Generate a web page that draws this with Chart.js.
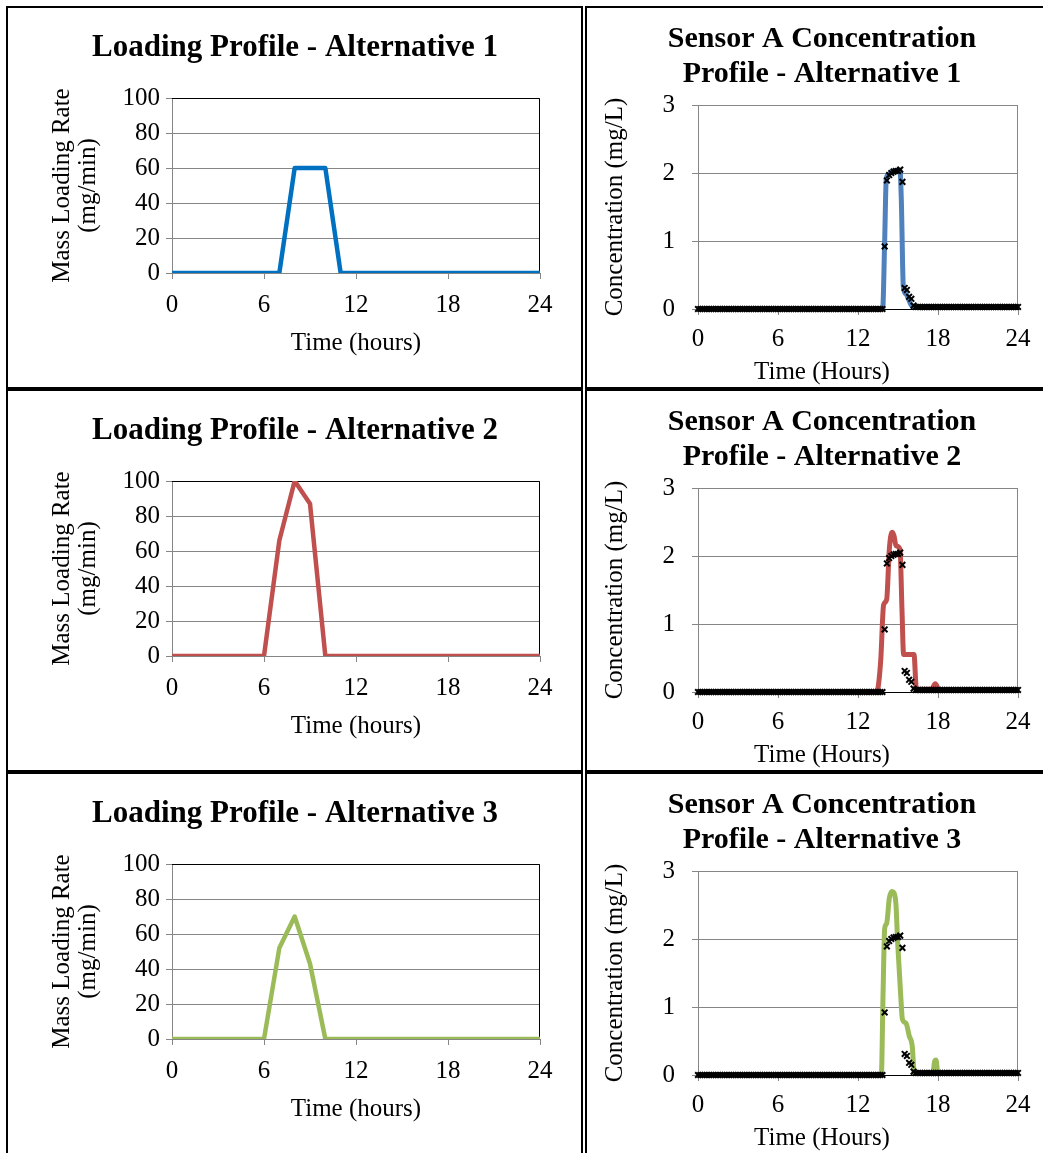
<!DOCTYPE html>
<html>
<head>
<meta charset="utf-8">
<title>Loading and Sensor A Concentration Profiles</title>
<script src="https://cdn.jsdelivr.net/npm/chart.js@4.4.1/dist/chart.umd.min.js"></script>
<style>
    html, body { margin: 0; padding: 0; background: #fff; }
    body { width: 1043px; height: 1153px; position: relative; overflow: hidden; }
    .panel { position: absolute; box-sizing: border-box; border: 2px solid #000; background: #fff; overflow: hidden; }
    .panel canvas { display: block; }
    .left { left: 6px; width: 577px; }
    .right { left: 585px; width: 462px; }
    .row1 { top: 6px; height: 383px; }
    .row2 { top: 389px; height: 383px; }
    .row3 { top: 772px; height: 383px; }
</style>
</head>
<body>
<div class="panel left row1"><canvas id="load-1" width="573" height="379"></canvas></div>
<div class="panel right row1"><canvas id="sensor-1" width="458" height="379"></canvas></div>
<div class="panel left row2"><canvas id="load-2" width="573" height="379"></canvas></div>
<div class="panel right row2"><canvas id="sensor-2" width="458" height="379"></canvas></div>
<div class="panel left row3"><canvas id="load-3" width="573" height="379"></canvas></div>
<div class="panel right row3"><canvas id="sensor-3" width="458" height="379"></canvas></div>

<script>
// ---- Data ----

// Axis ticks
const hourTicks = [0, 6, 12, 18, 24];
const loadTicks = [0, 20, 40, 60, 80, 100];
const concTicks = [0, 1, 2, 3];

// Mass loading rate (mg/min), one value per hour
const loadHours = [0, 1, 2, 3, 4, 5, 6, 7, 8, 9, 10, 11, 12, 13, 14, 15, 16, 17, 18, 19, 20, 21, 22, 23, 24];
const loadAlt1 = [0, 0, 0, 0, 0, 0, 0, 0, 60, 60, 60, 0, 0, 0, 0, 0, 0, 0, 0, 0, 0, 0, 0, 0, 0];
const loadAlt2 = [0, 0, 0, 0, 0, 0, 0, 66, 100, 87, 0, 0, 0, 0, 0, 0, 0, 0, 0, 0, 0, 0, 0, 0, 0];
const loadAlt3 = [0, 0, 0, 0, 0, 0, 0, 52, 70, 43, 0, 0, 0, 0, 0, 0, 0, 0, 0, 0, 0, 0, 0, 0, 0];

// Measured Sensor A concentration (mg/L), sampled every 10 minutes from 0:00 to 24:00
const SAMPLE_MINUTES = 10;
const measuredConc = [
    // 0:00 - 13:50
    0, 0, 0, 0, 0, 0, 0, 0, 0, 0, 0, 0,
    0, 0, 0, 0, 0, 0, 0, 0, 0, 0, 0, 0,
    0, 0, 0, 0, 0, 0, 0, 0, 0, 0, 0, 0,
    0, 0, 0, 0, 0, 0, 0, 0, 0, 0, 0, 0,
    0, 0, 0, 0, 0, 0, 0, 0, 0, 0, 0, 0,
    0, 0, 0, 0, 0, 0, 0, 0, 0, 0, 0, 0,
    0, 0, 0, 0, 0, 0, 0, 0, 0, 0, 0, 0,
    // 14:00 - 16:10
    0.92, 1.89, 1.97, 2.00, 2.02, 2.03, 2.03, 2.05, 1.87, 0.31, 0.28, 0.18, 0.15, 0.05,
    // 16:20 - 24:00
    0.03, 0.03, 0.03, 0.03, 0.03, 0.03, 0.03, 0.03, 0.03, 0.03, 0.03, 0.03,
    0.03, 0.03, 0.03, 0.03, 0.03, 0.03, 0.03, 0.03, 0.03, 0.03, 0.03, 0.03,
    0.03, 0.03, 0.03, 0.03, 0.03, 0.03, 0.03, 0.03, 0.03, 0.03, 0.03, 0.03,
    0.03, 0.03, 0.03, 0.03, 0.03, 0.03, 0.03, 0.03, 0.03, 0.03, 0.03
];

// Simulated Sensor A concentration (mg/L) at the given hours
const simAlt1Hours = [0, 13.85, 14.0, 14.12, 14.3, 14.6, 14.9, 15.15, 15.25, 15.4, 15.6, 15.8, 15.95, 16.15, 24];
const simAlt1Conc  = [0, 0, 1.0, 1.92, 1.98, 2.02, 2.04, 2.04, 1.6, 0.32, 0.22, 0.14, 0.07, 0.03, 0.03];

const simAlt2Hours = [0, 13.4, 13.7, 13.92, 14.15, 14.35, 14.55, 14.7, 14.85, 15.15, 15.3, 15.42, 16.2, 16.38, 17.5, 17.8, 18.1, 24];
const simAlt2Conc  = [0, 0, 0.45, 1.28, 1.36, 2.1, 2.35, 2.3, 2.15, 2.1, 1.2, 0.55, 0.55, 0.04, 0.04, 0.12, 0.03, 0.03];

const simAlt3Hours = [0, 13.75, 13.88, 14.0, 14.15, 14.35, 14.55, 14.7, 14.85, 14.97, 15.2, 15.33, 15.6, 15.85, 16.07, 16.2, 16.3, 17.6, 17.75, 17.85, 18.0, 24];
const simAlt3Conc  = [0, 0, 1.2, 2.15, 2.23, 2.6, 2.7, 2.68, 2.5, 1.96, 1.18, 0.82, 0.76, 0.57, 0.42, 0.05, 0, 0, 0.2, 0.22, 0, 0];

// ---- Styling ----
const FONT = '"Liberation Serif", "Times New Roman", Times, serif';
const GRID_GRAY = '#868686';

Chart.defaults.font.family = FONT;
Chart.defaults.color = '#000';
Chart.defaults.animation = false;

/**
 * Draws the top and right edges of the plot area
 */
const plotFrame = {
    id: 'plotFrame',
    beforeDatasetsDraw(chart, args, opts) {
        const { ctx, chartArea: a } = chart;
        ctx.save();
        ctx.strokeStyle = opts.color || GRID_GRAY;
        ctx.lineWidth = 1;
        ctx.beginPath();
        ctx.moveTo(a.left, a.top + 0.5);
        ctx.lineTo(a.right - 0.5, a.top + 0.5);
        ctx.lineTo(a.right - 0.5, a.bottom);
        ctx.stroke();
        ctx.restore();
    }
};

function toPoints(xs, ys) {
    return xs.map((x, i) => ({ x: x, y: ys[i] }));
}

function fixedTicks(values) {
    return scale => { scale.ticks = values.map(v => ({ value: v })); };
}

/**
 * Loading profile chart (left column)
 */
function makeLoadingChart(id, title, values, color) {
    new Chart(document.getElementById(id), {
        type: 'line',
        data: {
            datasets: [{
                data: toPoints(loadHours, values),
                borderColor: color,
                borderWidth: 4.5,
                borderJoinStyle: 'round',
                pointRadius: 0,
                tension: 0
            }]
        },
        options: {
            responsive: false,
            layout: { padding: { left: 42, right: 41, top: 0, bottom: 0 } },
            plugins: {
                legend: { display: false },
                tooltip: { enabled: false },
                title: {
                    display: true,
                    text: title,
                    color: '#000',
                    font: { size: 31, weight: 'bold', lineHeight: 1.2 },
                    padding: { top: 21.4, bottom: 31.4 }
                },
                plotFrame: { color: '#000' }
            },
            scales: {
                x: {
                    type: 'linear',
                    min: 0,
                    max: 24,
                    afterBuildTicks: fixedTicks(hourTicks),
                    afterFit: s => { s.height = 114; },
                    ticks: { font: { size: 25, lineHeight: 1.2 }, padding: 11, maxRotation: 0 },
                    grid: { drawOnChartArea: false, color: GRID_GRAY, tickLength: 6 },
                    border: { color: GRID_GRAY },
                    title: {
                        display: true,
                        text: 'Time (hours)',
                        font: { size: 25, lineHeight: 1.2 },
                        padding: { top: 0, bottom: 29 }
                    }
                },
                y: {
                    min: 0,
                    max: 100,
                    afterBuildTicks: fixedTicks(loadTicks),
                    afterFit: s => { s.width = 122; },
                    ticks: { font: { size: 25, lineHeight: 1.2 }, padding: 6 },
                    grid: { color: GRID_GRAY, tickLength: 6 },
                    border: { color: GRID_GRAY },
                    title: {
                        display: true,
                        text: ['Mass Loading Rate', '(mg/min)'],
                        font: { size: 25, lineHeight: 1.04 },
                        padding: { top: -1, bottom: 0 }
                    }
                }
            }
        },
        plugins: [plotFrame]
    });
}

/**
 * Sensor A concentration chart (right column)
 */
function makeSensorChart(id, title, simHours, simConc, color) {
    const measuredHours = measuredConc.map((_, i) => i * SAMPLE_MINUTES / 60);

    new Chart(document.getElementById(id), {
        type: 'line',
        data: {
            datasets: [
                {
                    label: 'Measured',
                    data: toPoints(measuredHours, measuredConc),
                    showLine: false,
                    pointStyle: 'crossRot',
                    pointRadius: 4,
                    pointBorderWidth: 2,
                    pointBorderColor: '#000',
                    pointBackgroundColor: '#000',
                    clip: 8,
                    order: 0
                },
                {
                    label: 'Simulated',
                    data: toPoints(simHours, simConc),
                    borderColor: color,
                    borderWidth: 5,
                    borderJoinStyle: 'round',
                    borderCapStyle: 'round',
                    cubicInterpolationMode: 'monotone',
                    pointRadius: 0,
                    order: 1
                }
            ]
        },
        options: {
            responsive: false,
            layout: { padding: { left: 39, right: 27, top: 0, bottom: 0 } },
            plugins: {
                legend: { display: false },
                tooltip: { enabled: false },
                title: {
                    display: true,
                    text: title,
                    color: '#000',
                    font: { size: 30, weight: 'bold', lineHeight: 35 / 30 },
                    padding: { top: 13.5, bottom: 13.5 }
                },
                subtitle: {
                    display: true,
                    position: 'bottom',
                    text: 'Time (Hours)',
                    color: '#000',
                    font: { size: 25, lineHeight: 1.2 },
                    padding: { top: 1, bottom: 0 }
                },
                plotFrame: { color: GRID_GRAY }
            },
            scales: {
                x: {
                    type: 'linear',
                    min: 0,
                    max: 24,
                    afterBuildTicks: fixedTicks(hourTicks),
                    afterFit: s => { s.height = 47; },
                    ticks: { font: { size: 25, lineHeight: 1.2 }, padding: 9, maxRotation: 0 },
                    grid: { drawOnChartArea: false, color: GRID_GRAY, tickLength: 6 },
                    border: { color: '#000' }
                },
                y: {
                    min: 0,
                    max: 3,
                    afterBuildTicks: fixedTicks(concTicks),
                    afterFit: s => { s.width = 72; },
                    ticks: { font: { size: 25, lineHeight: 1.2 }, padding: 17 },
                    grid: { color: GRID_GRAY, tickLength: 6 },
                    border: { color: GRID_GRAY },
                    title: {
                        display: true,
                        text: 'Concentration (mg/L)',
                        font: { size: 25, lineHeight: 1.2 },
                        padding: { top: -26, bottom: 0 }
                    }
                }
            }
        },
        plugins: [plotFrame]
    });
}

makeLoadingChart('load-1', 'Loading Profile - Alternative 1', loadAlt1, '#0070C0');
makeLoadingChart('load-2', 'Loading Profile - Alternative 2', loadAlt2, '#C0504D');
makeLoadingChart('load-3', 'Loading Profile - Alternative 3', loadAlt3, '#9BBB59');

makeSensorChart('sensor-1', ['Sensor A Concentration', 'Profile - Alternative 1'], simAlt1Hours, simAlt1Conc, '#4F81BD');
makeSensorChart('sensor-2', ['Sensor A Concentration', 'Profile - Alternative 2'], simAlt2Hours, simAlt2Conc, '#C0504D');
makeSensorChart('sensor-3', ['Sensor A Concentration', 'Profile - Alternative 3'], simAlt3Hours, simAlt3Conc, '#9BBB59');
</script>
</body>
</html>
